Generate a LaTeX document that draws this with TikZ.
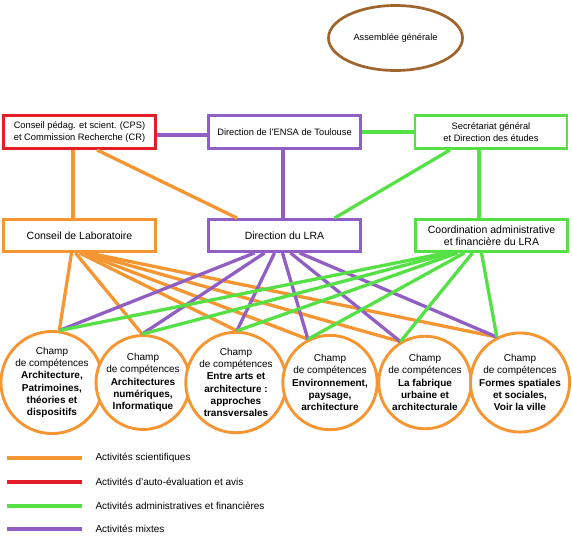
\documentclass[tikz,border=0pt]{standalone}
\usepackage{fontspec}
\setmainfont{Liberation Sans}
\usetikzlibrary{shapes.geometric}
\definecolor{sciorange}{RGB}{245,150,50}
\definecolor{evalred}{RGB}{228,30,40}
\definecolor{admgreen}{RGB}{85,225,70}
\definecolor{mixpurple}{RGB}{145,95,195}
\definecolor{agbrown}{RGB}{160,100,45}

\begin{document}
\begin{tikzpicture}[x=1pt,y=-1pt,
  unit/.style={rectangle,draw=#1,line width=2.9pt,fill=white,minimum width=152pt,inner sep=2pt,align=center},
  topunit/.style={unit=#1,minimum height=33pt,font=\fontsize{9.3}{11.5}\selectfont},
  midunit/.style={unit=#1,minimum height=32pt,font=\fontsize{10.5}{11.8}\selectfont},
  field/.style={circle,draw=sciorange,line width=2.9pt,fill=white,minimum size=92pt,inner sep=0pt,align=center,font=\fontsize{10}{12.3}\selectfont},
  tie/.style={draw=#1,line width=3.3pt}]
  \useasboundingbox (0,0) rectangle (572,536);

  \node[ellipse,draw=agbrown,line width=2.7pt,minimum width=134pt,minimum height=65pt,
    font=\fontsize{9.2}{11}\selectfont] (ag) at (395.5,38) {Assemblée générale};

  % top row
  \node[topunit=evalred] (cps) at (79.5,132) {Conseil pédag. et scient. (CPS)\\et Commission Recherche (CR)};
  \node[topunit=mixpurple] (ensa) at (284.5,132) {Direction de l'ENSA de Toulouse};
  \node[topunit=admgreen] (sg) at (491,132) {Secrétariat général\\et Direction des études};

  % middle row
  \node[midunit=sciorange] (lab) at (79.5,235.5) {Conseil de Laboratoire};
  \node[midunit=mixpurple] (lra) at (284.5,235.5) {Direction du LRA};
  \node[midunit=admgreen] (coord) at (491.5,235.5) {Coordination administrative\\et financière du LRA};

  % links between the boxes
  \draw[tie=mixpurple] ([yshift=-3pt]cps.east) -- ([yshift=-3pt]ensa.west);
  \draw[tie=admgreen] (ensa.east) -- (sg.west);
  \draw[tie=sciorange] ([xshift=-6.5pt]cps.south) -- ([xshift=-6.5pt]lab.north);
  \draw[tie=sciorange] ([xshift=17.5pt]cps.south) -- ([xshift=-47.5pt]lra.north);
  \draw[tie=mixpurple] ([xshift=-1.5pt]ensa.south) -- ([xshift=-1.5pt]lra.north);
  \draw[tie=admgreen] ([xshift=-41pt]sg.south) -- ([xshift=50pt]lra.north);
  \draw[tie=admgreen] ([xshift=-12pt]sg.south) -- ([xshift=-12.5pt]coord.north);

  % fields of competence
  \node[field] (f1) at (52,382.5) {Champ\\de compétences\\\textbf{Architecture,}\\\textbf{Patrimoines,}\\\textbf{théories et}\\\textbf{dispositifs}};
  \node[field] (f2) at (143,382.5) {Champ\\de compétences\\\textbf{Architectures}\\\textbf{numériques,}\\\textbf{Informatique}};
  \node[field] (f3) at (236,382.5) {Champ\\de compétences\\\textbf{Entre arts et}\\\textbf{architecture :}\\\textbf{approches}\\\textbf{transversales}};
  \node[field] (f4) at (330,382.5) {Champ\\de compétences\\\textbf{Environnement,}\\\textbf{paysage,}\\\textbf{architecture}};
  \node[field] (f5) at (425,382.5) {Champ\\de compétences\\\textbf{La fabrique}\\\textbf{urbaine et}\\\textbf{architecturale}};
  \node[field] (f6) at (520,382.5) {Champ\\de compétences\\\textbf{Formes spatiales}\\\textbf{et sociales,}\\\textbf{Voir la ville}};

  % scientific links
  \draw[tie=sciorange] ([xshift=-8pt]lab.south) -- (f1.82);
  \draw[tie=sciorange] ([xshift=-4pt]lab.south) -- (f2.91);
  \draw[tie=sciorange] ([xshift=0pt]lab.south) -- (f3.89);
  \draw[tie=sciorange] ([xshift=3pt]lab.south) -- (f4.117);
  \draw[tie=sciorange] ([xshift=6pt]lab.south) -- (f5.121);
  \draw[tie=sciorange] ([xshift=9pt]lab.south) -- (f6.117);

  % mixed links
  \draw[tie=mixpurple] ([xshift=-30pt]lra.south) -- (f1.82);
  \draw[tie=mixpurple] ([xshift=-20pt]lra.south) -- (f2.91);
  \draw[tie=mixpurple] ([xshift=-10pt]lra.south) -- (f3.89);
  \draw[tie=mixpurple] ([xshift=-2pt]lra.south) -- (f4.117);
  \draw[tie=mixpurple] ([xshift=6pt]lra.south) -- (f5.121);
  \draw[tie=mixpurple] ([xshift=15pt]lra.south) -- (f6.117);

  % administrative links
  \draw[tie=admgreen] ([xshift=-46pt]coord.south) -- (f1.82);
  \draw[tie=admgreen] ([xshift=-40pt]coord.south) -- (f2.91);
  \draw[tie=admgreen] ([xshift=-34pt]coord.south) -- (f3.89);
  \draw[tie=admgreen] ([xshift=-27pt]coord.south) -- (f4.117);
  \draw[tie=admgreen] ([xshift=-19pt]coord.south) -- (f5.121);
  \draw[tie=admgreen] ([xshift=-10pt]coord.south) -- (f6.117);

  % legend
  \node[anchor=west,font=\fontsize{10}{12}\selectfont] (k1) at (92,458) {Activités scientifiques};
  \node[anchor=west,font=\fontsize{10}{12}\selectfont] (k2) at (92,482) {Activités d'auto-évaluation et avis};
  \node[anchor=west,font=\fontsize{10}{12}\selectfont] (k3) at (92,506) {Activités administratives et financières};
  \node[anchor=west,font=\fontsize{10}{12}\selectfont] (k4) at (92,529) {Activités mixtes};
  \draw[tie=sciorange] ([xshift=-85pt]k1.west) -- ([xshift=-10pt]k1.west);
  \draw[tie=evalred] ([xshift=-85pt]k2.west) -- ([xshift=-10pt]k2.west);
  \draw[tie=admgreen] ([xshift=-85pt]k3.west) -- ([xshift=-10pt]k3.west);
  \draw[tie=mixpurple] ([xshift=-85pt]k4.west) -- ([xshift=-10pt]k4.west);
\end{tikzpicture}
\end{document}
